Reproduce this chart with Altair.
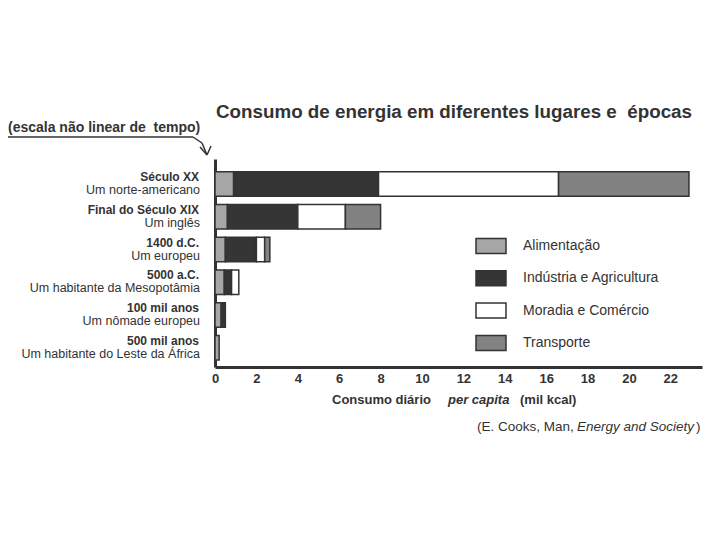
import altair as alt
import pandas as pd

# ---- data ----
rows_bold = ["Século XX", "Final do Século XIX", "1400 d.C.", "5000 a.C.",
             "100 mil anos", "500 mil anos"]
rows_sub = ["Um norte-americano", "Um inglês", "Um europeu",
            "Um habitante da Mesopotâmia", "Um nômade europeu",
            "Um habitante do Leste da África"]
categories = ["Alimentação", "Indústria e Agricultura", "Moradia e Comércio", "Transporte"]
alimentacao = [0.9, 0.6, 0.5, 0.45, 0.3, 0.2]
industria = [7.0, 3.4, 1.5, 0.35, 0.2, 0.0]
moradia = [8.7, 2.3, 0.4, 0.35, 0.0, 0.0]
transporte = [6.3, 1.7, 0.25, 0.0, 0.0, 0.0]
x_ticks = list(range(0, 23, 2))

title_text = "Consumo de energia em diferentes lugares e\u00a0 épocas"
note_text = "(escala não linear de\u00a0 tempo)"

FONT = "Liberation Sans"
INK = "#333333"
colors = ["#a6a6a6", "#353535", "#ffffff", "#828282"]

series = [alimentacao, industria, moradia, transporte]
recs = []
for ci, (cat, vals) in enumerate(zip(categories, series)):
    for r, v in zip(rows_bold, vals):
        if v > 0:
            recs.append({"row": r, "cat": cat, "value": v, "idx": ci})
bars_df = pd.DataFrame(recs)
labels_df = pd.DataFrame({"row": rows_bold, "sub": rows_sub})

yscale = alt.Scale(domain=rows_bold, paddingInner=0.25, paddingOuter=0.3, align=0.65)

bars = alt.Chart(bars_df).mark_bar(stroke=INK, strokeWidth=1.5).encode(
    x=alt.X("value:Q", stack="zero",
            scale=alt.Scale(domain=[0, 23.53], nice=False),
            axis=alt.Axis(values=x_ticks, title=None, grid=False, ticks=False,
                          domainWidth=3, domainColor=INK, labelFont=FONT,
                          labelFontSize=13, labelFontWeight="bold", labelColor=INK,
                          labelPadding=5, labelFlush=False)),
    y=alt.Y("row:N", scale=yscale,
            axis=alt.Axis(labels=False, ticks=False, title=None, grid=False,
                          domainWidth=3, domainColor=INK)),
    color=alt.Color("cat:N", scale=alt.Scale(domain=categories, range=colors),
                    legend=alt.Legend(title=None, orient="none", legendX=260, legendY=71,
                                      symbolType="M-1,-0.5H1V0.5H-1Z", symbolSize=900,
                                      symbolStrokeColor=INK, symbolStrokeWidth=1.5,
                                      symbolOpacity=1, labelFont=FONT, labelFontSize=14,
                                      labelColor=INK, labelOffset=16, rowPadding=5.3,
                                      padding=0)),
    order=alt.Order("idx:Q"),
)

lab_bold = alt.Chart(labels_df).mark_text(
    align="right", baseline="middle", dy=-7, font=FONT, fontSize=12,
    fontWeight="bold", color=INK
).encode(x=alt.value(-16), y=alt.Y("row:N", scale=yscale), text="row:N")

lab_sub = alt.Chart(labels_df).mark_text(
    align="right", baseline="middle", dy=6, font=FONT, fontSize=12.5, color=INK
).encode(x=alt.value(-15), y=alt.Y("row:N", scale=yscale), text="sub:N")

one = pd.DataFrame({"k": [0]})


def txt(text, x, y, size, weight="normal", style="normal", align="left"):
    return alt.Chart(one).mark_text(
        text=text, align=align, baseline="middle", font=FONT, fontSize=size,
        fontWeight=weight, fontStyle=style, color=INK
    ).encode(x=alt.value(x), y=alt.value(y))


def seg(x1, y1, x2, y2, w=1.5):
    return alt.Chart(one).mark_rule(color=INK, strokeWidth=w).encode(
        x=alt.value(x1), x2=alt.value(x2), y=alt.value(y1), y2=alt.value(y2))


annots = [
    txt(title_text, 239, -47, 18.8, weight="bold", align="center"),
    txt(note_text, -207, -31, 14, weight="bold"),
    seg(-207, -22, -22, -22),
    seg(-22, -22, -13, -16),
    seg(-13, -16, -8, -4),
    seg(-15, -12, -8, -4),
    seg(-4, -13, -8, -4),
    txt("Consumo diário", 117, 241, 13, weight="bold"),
    txt("per capita", 233, 241, 13, weight="bold", style="italic"),
    txt("(mil kcal)", 305, 241, 13, weight="bold"),
    txt("(E. Cooks, Man,", 262, 268, 13.5),
    txt("Energy and Society", 362, 268, 13.5, style="italic"),
    txt(")", 481, 268, 13.5),
]

chart = alt.layer(bars, lab_bold, lab_sub, *annots).properties(
    width=487, height=208,
    autosize=alt.AutoSizeParams(type="none"),
    padding={"left": 207, "top": 151, "right": 10, "bottom": 165},
    background="white",
).configure_view(strokeWidth=0)

chart.save("out.html", embed_options={"renderer": "svg", "actions": False})
